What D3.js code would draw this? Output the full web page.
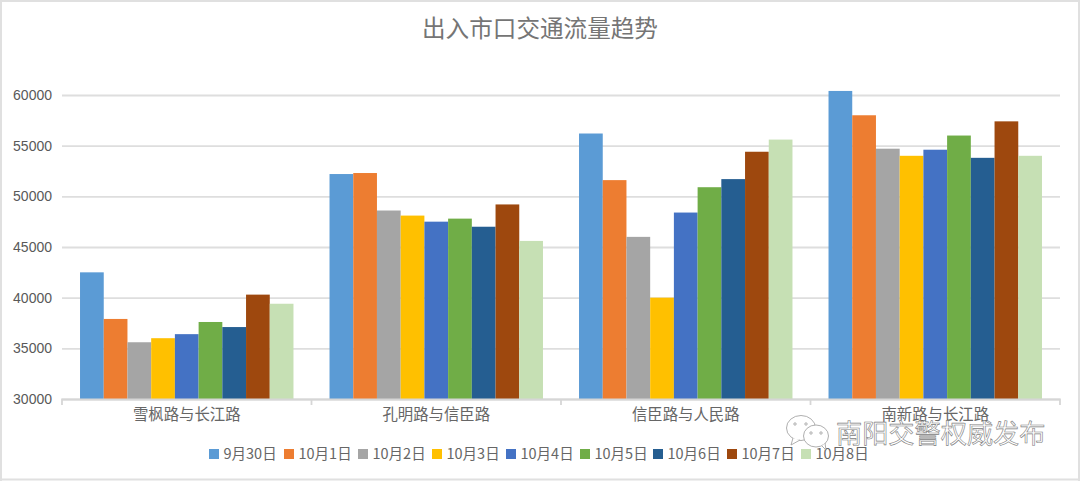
<!DOCTYPE html>
<html><head><meta charset="utf-8">
<script src="https://cdn.jsdelivr.net/npm/d3@7"></script>
<style>html,body{margin:0;padding:0;background:#fff;overflow:hidden}svg{display:block}text{font-family:"Noto Sans CJK SC","Noto Sans",sans-serif}</style>
</head><body><div id="c"></div><script>
const titleText="出入市口交通流量趋势";
const categories=["雪枫路与长江路","孔明路与信臣路","信臣路与人民路","南新路与长江路"];
const seriesNames=["9月30日","10月1日","10月2日","10月3日","10月4日","10月5日","10月6日","10月7日","10月8日"];
const colors=["#5b9bd5","#ed7d31","#a5a5a5","#ffc000","#4472c4","#70ad47","#255e91","#9e480e","#c6e0b4"];
const s0=[42500,52200,56200,60400];
const s1=[37900,52300,51600,58000];
const s2=[35600,48600,46000,54700];
const s3=[36000,48100,40000,54000];
const s4=[36400,47500,48400,54600];
const s5=[37600,47800,50900,56000];
const s6=[37100,47000,51700,53800];
const s7=[40300,49200,54400,57400];
const s8=[39400,45600,55600,54000];
const series=[s0,s1,s2,s3,s4,s5,s6,s7,s8];
const yTicks=[30000,35000,40000,45000,50000,55000,60000];
const watermark="南阳交警权威发布";

const W=1080,H=481;
const svg=d3.select("#c").append("svg").attr("width",W).attr("height",H);
svg.append("rect").attr("width",W).attr("height",H).attr("fill","#fff");
svg.append("path").attr("d",`M1,${H}V1H1079V${H}M0,${H-1.5}H${W}`).attr("fill","none").attr("stroke","#e0e0e0").attr("stroke-width",2);
svg.append("text").attr("x",540).attr("y",36.5).attr("text-anchor","middle").attr("font-size",23.6).attr("fill","#757575").text(titleText);

const x=d3.scaleBand().domain(categories).range([62,1060]);
const inner=d3.scaleBand().domain(d3.range(9)).range([0,x.bandwidth()]).paddingOuter(0.76);
const y=d3.scaleLinear().domain([30000,60000]).range([399,95]);

const gy=svg.append("g").attr("transform","translate(62,0)")
  .call(d3.axisLeft(y).tickValues(yTicks).tickSize(-998).tickFormat(d3.format("d")).tickPadding(10));
gy.select(".domain").remove();
gy.selectAll(".tick line").attr("stroke","#dedede").attr("stroke-width",1.8);
gy.selectAll(".tick text").attr("font-size",14).attr("fill","#595959").style("font-family","'Liberation Sans',sans-serif").attr("x",-10);

series.forEach((vals,i)=>{
  svg.append("g").selectAll("rect").data(vals).join("rect")
    .attr("x",(d,j)=>x(categories[j])+inner(i))
    .attr("width",inner.bandwidth())
    .attr("y",d=>y(d))
    .attr("height",d=>y(30000)-y(d))
    .attr("fill",colors[i]);
});

const gx=svg.append("g").attr("transform","translate(0,399)")
  .call(d3.axisBottom(x).tickSize(0).tickPadding(10));
gx.select(".domain").attr("stroke","#d6d6d6").attr("stroke-width",1.8).attr("d","M62,6V0.5H1060V6");
gx.selectAll(".tick text").attr("font-size",15.4).attr("fill","#666");
svg.append("g").selectAll("line").data(categories.slice(1)).join("line")
  .attr("x1",d=>x(d)).attr("x2",d=>x(d)).attr("y1",399).attr("y2",405).attr("stroke","#d6d6d6").attr("stroke-width",1.8);

const legendX=[209,284,358,432,506,580,653,727,801];
const lg=svg.append("g").selectAll("g").data(seriesNames).join("g")
  .attr("transform",(d,i)=>`translate(${legendX[i]},449)`);
lg.append("rect").attr("width",10).attr("height",10).attr("fill",(d,i)=>colors[i]);
lg.append("text").attr("x",14.5).attr("y",10).attr("font-size",14.5).attr("fill","#666").text(d=>d);

// watermark
const wm=svg.append("g").attr("fill","#fff").attr("stroke","#9a9a9a").attr("stroke-width",0.8);
wm.append("ellipse").attr("cx",801).attr("cy",428).attr("rx",14.5).attr("ry",12.5);
wm.append("path").attr("d","M793,438L791,445L800,440");
wm.append("ellipse").attr("cx",816).attr("cy",436).attr("rx",12.5).attr("ry",11);
wm.append("path").attr("d","M822,446L826,450L825,443");
wm.selectAll("circle").data([[795,424],[806,424],[811,433],[821,433]]).join("circle")
  .attr("cx",d=>d[0]).attr("cy",d=>d[1]).attr("r",1.2);
svg.append("text").attr("x",836).attr("y",443).attr("font-size",26.2).attr("fill","#fff").attr("stroke","#808080").attr("stroke-width",0.6).text(watermark);
</script></body></html>
